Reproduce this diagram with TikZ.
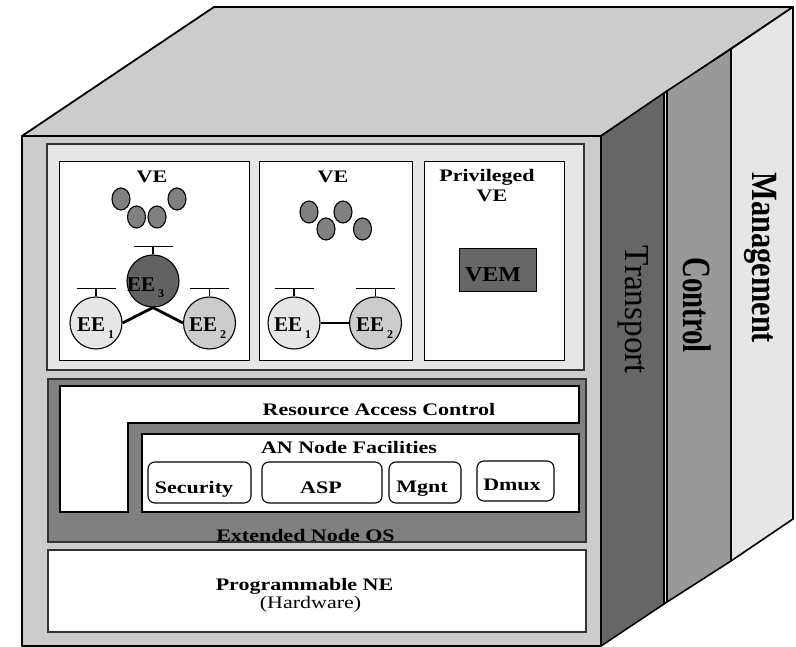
\documentclass[tikz,border=0pt]{standalone}
\usepackage{fontspec}
\setmainfont{Liberation Serif}
\usepackage{graphicx}
\definecolor{faceGray}{HTML}{CCCCCC}
\definecolor{paleGray}{HTML}{E6E6E6}
\definecolor{midGray}{HTML}{999999}
\definecolor{osGray}{HTML}{808080}
\definecolor{darkGray}{HTML}{666666}
\definecolor{eeDark}{HTML}{626262}
\definecolor{edgeGray}{HTML}{333333}
% flattened label text
\newcommand{\vsq}[1]{\scalebox{1}[0.8]{#1}}
% EE label with lowered index
\newcommand{\eelab}[1]{EE\hspace{3pt}\raisebox{-6pt}{\fontsize{12}{12}\selectfont #1}}
\begin{document}
\begin{tikzpicture}[x=1pt,y=-1pt,
  outline/.style={draw=black,line width=1.8pt,line join=round},
  panel/.style={draw=edgeGray,line width=1.5pt},
  vebox/.style={draw=black,fill=white,line width=1pt},
  lbl/.style={font=\fontsize{22}{24}\selectfont\bfseries,inner sep=0pt,anchor=base},
  eetext/.style={font=\fontsize{21}{22}\selectfont\bfseries,inner sep=0pt,anchor=base west},
  ee/.style={circle,draw=black,line width=1.1pt,minimum size=52pt,inner sep=0pt},
  blob/.style={draw=black,line width=1.1pt,fill=osGray},
  tbar/.style={draw=black,line width=1.4pt},
  link/.style={draw=black,line width=2.8pt},
  facility/.style={draw=black,fill=white,line width=1.1pt,rounded corners=7pt},
  slab/.style={draw=black,line width=1.6pt,line join=round},
  slabtext/.style={rotate=-90,anchor=base,inner sep=0pt}]
\useasboundingbox (0,0) rectangle (796,647);

% top of the cabinet
\path[outline,fill=faceGray] (22,136) -- (214,7) -- (793,7) -- (601,136) -- cycle;
% front face
\path[outline,fill=faceGray] (22,136) rectangle (601,646);

% side slabs: transport, control, management
\path[fill=paleGray] (664,93) -- (667,91) -- (667,602) -- (664,604) -- cycle;
\path[slab,fill=darkGray] (601,136) -- (664,93) -- (664,604) -- (601,646) -- cycle;
\path[slab,fill=midGray] (667,91) -- (731,49) -- (731,561) -- (667,602) -- cycle;
\path[slab,fill=paleGray] (731,49) -- (793,7) -- (793,519) -- (731,561) -- cycle;
\draw[slab] (664,93) -- (667,91);
\draw[slab] (664,604) -- (667,602);

\node[slabtext,font=\fontsize{35}{35}\selectfont] (transport) at (625,310) {\scalebox{0.95}[1]{Transport}};
\node[slabtext,font=\fontsize{40}{40}\selectfont\bfseries] (control) at (683,305) {\scalebox{0.72}[1]{Control}};
\node[slabtext,font=\fontsize{37}{37}\selectfont\bfseries] (management) at (752,258) {\scalebox{0.82}[1]{Management}};

% execution environment panel
\path[panel,fill=paleGray] (47,144) rectangle (584,370);
\path[vebox] (59,162) rectangle (249,361);
\path[vebox] (259,162) rectangle (412,361);
\path[vebox] (424,162) rectangle (564,361);

\node[lbl] (ve1) at (152,182.7) {\vsq{VE}};
\node[lbl] (ve2) at (333,183) {\vsq{VE}};
\node[lbl] (priv) at (487,181.7) {\vsq{Privileged}};
\node[lbl] (privve) at (492,202) {\vsq{VE}};

% active packets
\path[blob] (121,199) ellipse [x radius=9,y radius=11];
\path[blob] (136.5,217) ellipse [x radius=9,y radius=11];
\path[blob] (157,217) ellipse [x radius=9,y radius=11];
\path[blob] (177,199) ellipse [x radius=9,y radius=11];
\path[blob] (309,212) ellipse [x radius=9,y radius=11];
\path[blob] (326,229) ellipse [x radius=9,y radius=11];
\path[blob] (343,212) ellipse [x radius=9,y radius=11];
\path[blob] (362.5,229) ellipse [x radius=9,y radius=11];

% execution environments
\node[ee,fill=eeDark] (ee3) at (153,281) {};
\node[ee,fill=paleGray] (ee1) at (96,323) {};
\node[ee,fill=faceGray] (ee2) at (209.5,323) {};
\node[ee,fill=paleGray] (ee1b) at (294,323) {};
\node[ee,fill=faceGray] (ee2b) at (375.5,323) {};

\foreach \n in {ee3,ee1,ee2,ee1b,ee2b}{
  \draw[tbar] (\n.north) -- ++(0,-8) ++(-19.5,0) -- ++(39,0);
}
\draw[link] (ee3.south) -- (ee1.east);
\draw[link] (ee3.south) -- (ee2.west);
\draw[link] (ee1b.east) -- (ee2b.west);

\node[eetext] (ee3lab) at (127,292) {\eelab{3}};
\node[eetext] (ee1lab) at (77,332) {\eelab{1}};
\node[eetext] (ee2lab) at (189,332) {\eelab{2}};
\node[eetext] (ee1blab) at (274,332) {\eelab{1}};
\node[eetext] (ee2blab) at (356,332) {\eelab{2}};

% VE manager
\path[draw=black,line width=1pt,fill=darkGray] (459,249) rectangle (536,292);
\node[lbl,font=\fontsize{24}{26}\selectfont\bfseries] (vem) at (493,281.7) {\scalebox{1}[0.88]{VEM}};

% extended node OS
\path[panel,fill=osGray] (48,379) rectangle (586,542);
\path[draw=black,line width=1.6pt,fill=white,line join=miter]
  (60,386) -- (579,386) -- (579,423) -- (128,423) -- (128,512) -- (60,512) -- cycle;
\node[lbl] (rac) at (379,415) {\vsq{Resource Access Control}};
\path[draw=black,line width=1.4pt,fill=white] (142,434) rectangle (579,512);
\node[lbl] (anf) at (349,453) {\vsq{AN Node Facilities}};

\path[facility] (148,462) rectangle (251,503);
\path[facility] (262,462) rectangle (382,503);
\path[facility] (389,462) rectangle (461,503);
\path[facility] (477,461) rectangle (554,501);
\node[lbl] (security) at (194,493) {\vsq{Security}};
\node[lbl] (asp) at (321,493) {\vsq{ASP}};
\node[lbl] (mgnt) at (422,492.7) {\vsq{Mgnt}};
\node[lbl] (dmux) at (512,490.7) {\vsq{Dmux}};

\node[lbl] (enos) at (305.5,541) {\vsq{Extended Node OS}};

% programmable network element
\path[panel,fill=white] (48,550) rectangle (586,632);
\node[lbl] (pne) at (304.5,590.7) {\vsq{Programmable NE}};
\node[lbl,font=\fontsize{22}{24}\selectfont] (hw) at (310.5,608) {\vsq{(Hardware)}};
\end{tikzpicture}
\end{document}
